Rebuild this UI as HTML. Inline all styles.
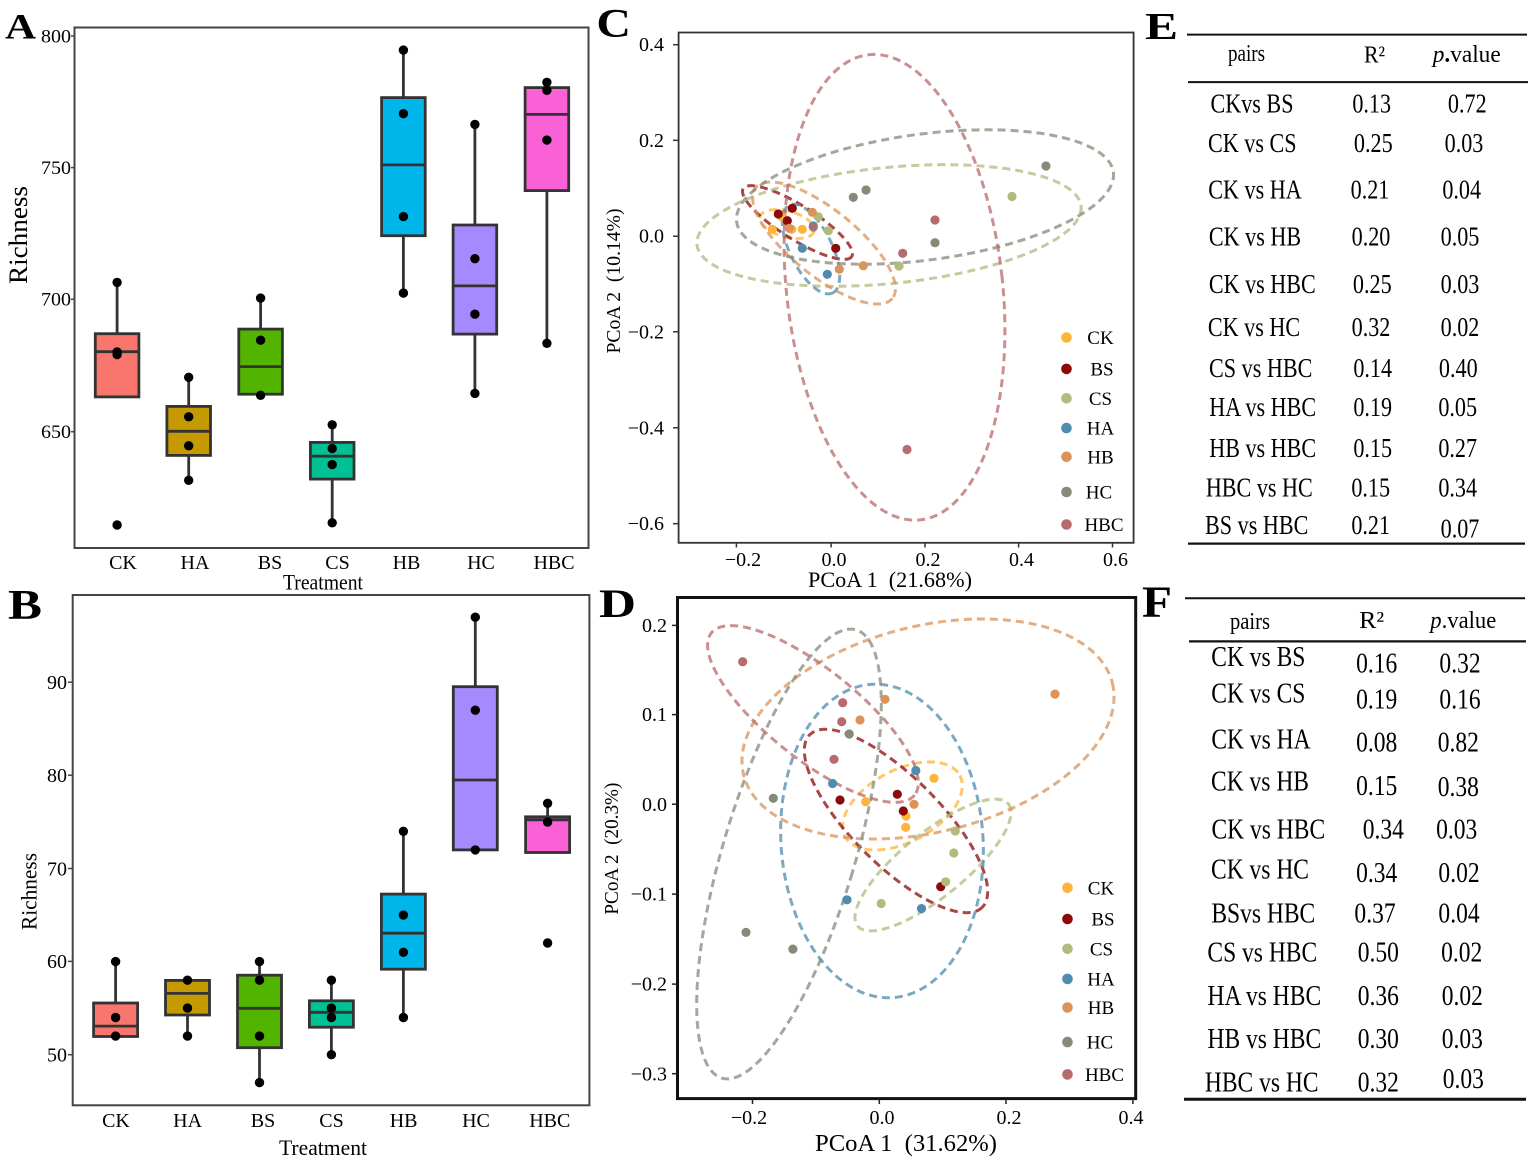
<!DOCTYPE html>
<html><head><meta charset="utf-8"><style>
html,body{margin:0;padding:0;background:#fff;}
svg{display:block;}
text{font-family:"Liberation Serif","Times New Roman",serif;fill:#000;}
.bx{stroke:#333;stroke-width:2.8;}
.wk{stroke:#333;stroke-width:2.8;}
.el{fill:none;stroke-width:3;stroke-dasharray:8 5;stroke-opacity:0.75;}
</style></head><body>
<svg width="1535" height="1163" viewBox="0 0 1535 1163" xmlns="http://www.w3.org/2000/svg">
<rect width="1535" height="1163" fill="#fff"/>

<!-- ================= PANEL A ================= -->
<text x="5" y="38.5" font-size="36" font-weight="bold" textLength="31" lengthAdjust="spacingAndGlyphs">A</text>
<rect x="74.5" y="27.5" width="514" height="520.5" fill="none" stroke="#444" stroke-width="2"/>
<g font-size="18.5" text-anchor="end">
<text x="71" y="42.3" textLength="30" lengthAdjust="spacingAndGlyphs">800</text>
<text x="71" y="173.9" textLength="30" lengthAdjust="spacingAndGlyphs">750</text>
<text x="71" y="305.6" textLength="30" lengthAdjust="spacingAndGlyphs">700</text>
<text x="71" y="438" textLength="30" lengthAdjust="spacingAndGlyphs">650</text>
</g>
<g stroke="#444" stroke-width="1.5">
<line x1="71" y1="36" x2="74.5" y2="36"/><line x1="71" y1="167.6" x2="74.5" y2="167.6"/>
<line x1="71" y1="299.3" x2="74.5" y2="299.3"/><line x1="71" y1="431.7" x2="74.5" y2="431.7"/>
</g>
<text transform="translate(27,235) rotate(-90)" font-size="26" text-anchor="middle" textLength="98" lengthAdjust="spacingAndGlyphs">Richness</text>
<g font-size="20" text-anchor="middle">
<text x="123" y="569">CK</text><text x="195" y="569">HA</text><text x="270" y="569">BS</text>
<text x="337.5" y="569">CS</text><text x="406.5" y="569">HB</text><text x="481" y="569">HC</text>
<text x="554" y="569">HBC</text>
</g>
<text x="323" y="589.5" font-size="22" text-anchor="middle" textLength="80" lengthAdjust="spacingAndGlyphs">Treatment</text>

<!-- A boxes -->
<g class="wk">
<line x1="117.1" y1="282.4" x2="117.1" y2="333.7"/>
<line x1="188.7" y1="377.3" x2="188.7" y2="406.4"/><line x1="188.7" y1="455.4" x2="188.7" y2="480.3"/>
<line x1="260.6" y1="298.1" x2="260.6" y2="329.1"/>
<line x1="332.2" y1="424.8" x2="332.2" y2="442.4"/><line x1="332.2" y1="479.1" x2="332.2" y2="522.8"/>
<line x1="403.4" y1="50.1" x2="403.4" y2="97.6"/><line x1="403.4" y1="235.7" x2="403.4" y2="293.1"/>
<line x1="474.9" y1="124.4" x2="474.9" y2="225"/><line x1="474.9" y1="334.1" x2="474.9" y2="393.4"/>
<line x1="546.9" y1="82.3" x2="546.9" y2="87.6"/><line x1="546.9" y1="190.6" x2="546.9" y2="343.3"/>
</g>
<g class="bx">
<rect x="95.3" y="333.7" width="43.6" height="63.2" fill="#F8766D"/>
<rect x="166.9" y="406.4" width="43.6" height="49" fill="#C49A00"/>
<rect x="238.8" y="329.1" width="43.6" height="65.1" fill="#53B400"/>
<rect x="310.4" y="442.4" width="43.6" height="36.7" fill="#00C094"/>
<rect x="381.6" y="97.6" width="43.6" height="138.1" fill="#00B6EB"/>
<rect x="453.1" y="225" width="43.6" height="109.1" fill="#A58AFF"/>
<rect x="525.1" y="87.6" width="43.6" height="103" fill="#FB61D7"/>
<line x1="95.3" y1="351.7" x2="138.9" y2="351.7"/>
<line x1="166.9" y1="431.3" x2="210.5" y2="431.3"/>
<line x1="238.8" y1="366.6" x2="282.4" y2="366.6"/>
<line x1="310.4" y1="456.2" x2="354" y2="456.2"/>
<line x1="381.6" y1="164.9" x2="425.2" y2="164.9"/>
<line x1="453.1" y1="285.9" x2="496.7" y2="285.9"/>
<line x1="525.1" y1="114.4" x2="568.7" y2="114.4"/>
</g>
<g fill="#000">
<circle cx="117.1" cy="282.4" r="4.7"/><circle cx="117.1" cy="352" r="4.7"/><circle cx="117.1" cy="354.5" r="4.7"/><circle cx="117.1" cy="525" r="4.7"/>
<circle cx="188.7" cy="377.3" r="4.7"/><circle cx="188.7" cy="416.8" r="4.7"/><circle cx="188.7" cy="445.8" r="4.7"/><circle cx="188.7" cy="480.3" r="4.7"/>
<circle cx="260.6" cy="298.1" r="4.7"/><circle cx="260.6" cy="340.2" r="4.7"/><circle cx="260.6" cy="395.3" r="4.7"/>
<circle cx="332.2" cy="424.8" r="4.7"/><circle cx="332.2" cy="448.5" r="4.7"/><circle cx="332.2" cy="464.6" r="4.7"/><circle cx="332.2" cy="522.8" r="4.7"/>
<circle cx="403.4" cy="50.1" r="4.7"/><circle cx="403.4" cy="113.7" r="4.7"/><circle cx="403.4" cy="216.6" r="4.7"/><circle cx="403.4" cy="293.1" r="4.7"/>
<circle cx="474.9" cy="124.4" r="4.7"/><circle cx="474.9" cy="258.7" r="4.7"/><circle cx="474.9" cy="314.2" r="4.7"/><circle cx="474.9" cy="393.4" r="4.7"/>
<circle cx="546.9" cy="82.3" r="4.7"/><circle cx="546.9" cy="90.3" r="4.7"/><circle cx="546.9" cy="140.1" r="4.7"/><circle cx="546.9" cy="343.3" r="4.7"/>
</g>

<!-- ================= PANEL B ================= -->
<text x="8" y="619" font-size="42" font-weight="bold" textLength="34" lengthAdjust="spacingAndGlyphs">B</text>
<rect x="72.7" y="595" width="516.7" height="510.3" fill="none" stroke="#444" stroke-width="2"/>
<g font-size="20" text-anchor="end">
<text x="67" y="689">90</text><text x="67" y="782">80</text><text x="67" y="875.3">70</text>
<text x="67" y="968.2">60</text><text x="67" y="1061.5">50</text>
</g>
<g stroke="#444" stroke-width="1.5">
<line x1="68" y1="682.2" x2="72.7" y2="682.2"/><line x1="68" y1="775.2" x2="72.7" y2="775.2"/>
<line x1="68" y1="868.5" x2="72.7" y2="868.5"/><line x1="68" y1="961.4" x2="72.7" y2="961.4"/>
<line x1="68" y1="1054.7" x2="72.7" y2="1054.7"/>
</g>
<text transform="translate(36.5,891.5) rotate(-90)" font-size="22" text-anchor="middle" textLength="77" lengthAdjust="spacingAndGlyphs">Richness</text>
<g font-size="20" text-anchor="middle">
<text x="116" y="1127">CK</text><text x="187.6" y="1127">HA</text><text x="263" y="1127">BS</text>
<text x="331.5" y="1127">CS</text><text x="403.6" y="1127">HB</text><text x="476" y="1127">HC</text>
<text x="549.8" y="1127">HBC</text>
</g>
<text x="323" y="1155" font-size="22" text-anchor="middle" textLength="88" lengthAdjust="spacingAndGlyphs">Treatment</text>

<g class="wk">
<line x1="115.6" y1="961.6" x2="115.6" y2="1003"/>
<line x1="187.5" y1="1015" x2="187.5" y2="1036.1"/>
<line x1="259.5" y1="961.6" x2="259.5" y2="975.2"/><line x1="259.5" y1="1047.7" x2="259.5" y2="1082.6"/>
<line x1="331.4" y1="980.2" x2="331.4" y2="1000.8"/><line x1="331.4" y1="1027.2" x2="331.4" y2="1054.7"/>
<line x1="403.4" y1="831.3" x2="403.4" y2="894.1"/><line x1="403.4" y1="969.2" x2="403.4" y2="1017.5"/>
<line x1="475.3" y1="617.2" x2="475.3" y2="686.7"/>
<line x1="547.6" y1="803.3" x2="547.6" y2="816.8"/>
</g>
<g class="bx">
<rect x="93.6" y="1003" width="44" height="33.5" fill="#F8766D"/>
<rect x="165.5" y="980.4" width="44" height="34.6" fill="#C49A00"/>
<rect x="237.5" y="975.2" width="44" height="72.5" fill="#53B400"/>
<rect x="309.4" y="1000.8" width="44" height="26.4" fill="#00C094"/>
<rect x="381.4" y="894.1" width="44" height="75.1" fill="#00B6EB"/>
<rect x="453.3" y="686.7" width="44" height="163.2" fill="#A58AFF"/>
<rect x="525.6" y="816.8" width="44" height="35.7" fill="#FB61D7"/>
<line x1="93.6" y1="1026.1" x2="137.6" y2="1026.1"/>
<line x1="165.5" y1="993.4" x2="209.5" y2="993.4"/>
<line x1="237.5" y1="1008.3" x2="281.5" y2="1008.3"/>
<line x1="309.4" y1="1012.3" x2="353.4" y2="1012.3"/>
<line x1="381.4" y1="933.2" x2="425.4" y2="933.2"/>
<line x1="453.3" y1="780" x2="497.3" y2="780"/>
<line x1="525.6" y1="819.8" x2="569.6" y2="819.8"/>
</g>
<g fill="#000">
<circle cx="115.6" cy="961.6" r="4.7"/><circle cx="115.6" cy="1017.5" r="4.7"/><circle cx="115.6" cy="1036.1" r="4.7"/>
<circle cx="187.5" cy="980.2" r="4.7"/><circle cx="187.5" cy="1008.1" r="4.7"/><circle cx="187.5" cy="1036.1" r="4.7"/>
<circle cx="259.5" cy="961.6" r="4.7"/><circle cx="259.5" cy="980.2" r="4.7"/><circle cx="259.5" cy="1036.1" r="4.7"/><circle cx="259.5" cy="1082.6" r="4.7"/>
<circle cx="331.4" cy="980.2" r="4.7"/><circle cx="331.4" cy="1008.1" r="4.7"/><circle cx="331.4" cy="1017.5" r="4.7"/><circle cx="331.4" cy="1054.7" r="4.7"/>
<circle cx="403.4" cy="831.3" r="4.7"/><circle cx="403.4" cy="915.1" r="4.7"/><circle cx="403.4" cy="952.3" r="4.7"/><circle cx="403.4" cy="1017.5" r="4.7"/>
<circle cx="475.3" cy="617.2" r="4.7"/><circle cx="475.3" cy="710.2" r="4.7"/><circle cx="475.3" cy="849.9" r="4.7"/>
<circle cx="547.6" cy="803.3" r="4.7"/><circle cx="547.6" cy="822" r="4.7"/><circle cx="547.6" cy="943" r="4.7"/>
</g>

<!-- ================= PANEL C ================= -->
<text x="596.4" y="36.3" font-size="40" font-weight="bold" textLength="34.6" lengthAdjust="spacingAndGlyphs">C</text>
<rect x="678.6" y="32.5" width="455" height="510.3" fill="none" stroke="#333" stroke-width="1.8"/>
<g stroke="#333" stroke-width="1.5">
<line x1="673" y1="44.7" x2="678.6" y2="44.7"/><line x1="673" y1="140.3" x2="678.6" y2="140.3"/>
<line x1="673" y1="236.2" x2="678.6" y2="236.2"/><line x1="673" y1="331.8" x2="678.6" y2="331.8"/>
<line x1="673" y1="427.8" x2="678.6" y2="427.8"/><line x1="673" y1="523.7" x2="678.6" y2="523.7"/>
<line x1="736.4" y1="542.8" x2="736.4" y2="547.5"/><line x1="831.1" y1="542.8" x2="831.1" y2="547.5"/>
<line x1="925" y1="542.8" x2="925" y2="547.5"/><line x1="1018.6" y1="542.8" x2="1018.6" y2="547.5"/>
<line x1="1112.5" y1="542.8" x2="1112.5" y2="547.5"/>
</g>
<g font-size="20" text-anchor="end">
<text x="664" y="51.2">0.4</text><text x="664" y="146.8">0.2</text><text x="664" y="242.7">0.0</text>
<text x="664" y="338.3">−0.2</text><text x="664" y="434.3">−0.4</text><text x="664" y="530.2">−0.6</text>
</g>
<g font-size="20" text-anchor="middle">
<text x="743" y="566">−0.2</text><text x="834" y="566">0.0</text><text x="928" y="566">0.2</text>
<text x="1021.5" y="566">0.4</text><text x="1115.5" y="566">0.6</text>
</g>
<text x="890" y="587" font-size="22" text-anchor="middle" textLength="164" lengthAdjust="spacingAndGlyphs" xml:space="preserve">PCoA 1  (21.68%)</text>
<text transform="translate(620,281) rotate(-90)" font-size="20" text-anchor="middle" textLength="145" lengthAdjust="spacingAndGlyphs" xml:space="preserve">PCoA 2  (10.14%)</text>

<!-- C ellipses -->
<ellipse class="el" stroke="#FDB43B" cx="787" cy="224" rx="28" ry="13" transform="rotate(15 787 224)"/>
<ellipse class="el" stroke="#8C0A0A" cx="797.5" cy="222.5" rx="64" ry="17" transform="rotate(32 797.5 222.5)"/>
<ellipse class="el" stroke="#B2BA7D" cx="889" cy="225.5" rx="193" ry="58" transform="rotate(-5.7 889 225.5)"/>
<ellipse class="el" stroke="#4F8CAF" cx="811" cy="249" rx="49" ry="21" transform="rotate(63.7 811 249)"/>
<ellipse class="el" stroke="#DB935A" cx="824" cy="243" rx="88" ry="33" transform="rotate(39 824 243)"/>
<ellipse class="el" stroke="#868A78" cx="925" cy="197" rx="190" ry="63" transform="rotate(-7.5 925 197)"/>
<ellipse class="el" stroke="#B86A6C" cx="894.5" cy="287.3" rx="108" ry="234" transform="rotate(-6.35 894.5 287.3)"/>
<!-- C points -->
<g fill="#FDB43B"><circle cx="772.3" cy="229.3" r="4.6"/><circle cx="781.7" cy="216.7" r="4.6"/><circle cx="791.7" cy="229.3" r="4.6"/><circle cx="802.3" cy="229.3" r="4.6"/></g>
<g fill="#8C0A0A"><circle cx="778.3" cy="214" r="4.6"/><circle cx="792.3" cy="208.3" r="4.6"/><circle cx="787.3" cy="220.7" r="4.6"/><circle cx="835.7" cy="248.3" r="4.6"/></g>
<g fill="#B2BA7D"><circle cx="818.3" cy="216.7" r="4.6"/><circle cx="828.3" cy="230.7" r="4.6"/><circle cx="899" cy="266" r="4.6"/><circle cx="1012" cy="196.5" r="4.6"/></g>
<g fill="#4F8CAF"><circle cx="802.3" cy="248.3" r="4.6"/><circle cx="827.3" cy="274.3" r="4.6"/><circle cx="813.3" cy="226" r="4.6"/></g>
<g fill="#DB935A"><circle cx="812.3" cy="212.3" r="4.6"/><circle cx="839.3" cy="269.3" r="4.6"/><circle cx="863.3" cy="265.7" r="4.6"/><circle cx="789.3" cy="228.3" r="4.6"/></g>
<g fill="#868A78"><circle cx="853.3" cy="197.3" r="4.6"/><circle cx="866" cy="190" r="4.6"/><circle cx="935" cy="242.7" r="4.6"/><circle cx="1046" cy="166" r="4.6"/></g>
<g fill="#B86A6C"><circle cx="902.7" cy="253.3" r="4.6"/><circle cx="935" cy="220" r="4.6"/><circle cx="813.3" cy="227.3" r="4.6" fill-opacity="0.8"/><circle cx="907" cy="449.5" r="4.6"/></g>
<!-- C legend -->
<g>
<circle cx="1066.5" cy="337.5" r="5.3" fill="#FDB43B"/><circle cx="1066.5" cy="368.9" r="5.3" fill="#8C0A0A"/>
<circle cx="1066.5" cy="398.3" r="5.3" fill="#B2BA7D"/><circle cx="1066.5" cy="428.1" r="5.3" fill="#4F8CAF"/>
<circle cx="1066.5" cy="456.8" r="5.3" fill="#DB935A"/><circle cx="1066.5" cy="492" r="5.3" fill="#868A78"/>
<circle cx="1066.5" cy="524.5" r="5.3" fill="#B86A6C"/>
</g>
<g font-size="19" text-anchor="middle">
<text x="1100.5" y="344">CK</text><text x="1102" y="375.4">BS</text><text x="1100.5" y="404.8">CS</text>
<text x="1100.5" y="434.6">HA</text><text x="1100.5" y="463.3">HB</text><text x="1099" y="498.5">HC</text>
<text x="1104" y="531">HBC</text>
</g>

<!-- ================= PANEL D ================= -->
<text x="599" y="617" font-size="40" font-weight="bold" textLength="37" lengthAdjust="spacingAndGlyphs">D</text>
<rect x="677.5" y="597.5" width="458.2" height="501.1" fill="none" stroke="#111" stroke-width="3"/>
<g stroke="#222" stroke-width="1.5">
<line x1="672" y1="625.4" x2="677.5" y2="625.4"/><line x1="672" y1="714.6" x2="677.5" y2="714.6"/>
<line x1="672" y1="804.2" x2="677.5" y2="804.2"/><line x1="672" y1="894.1" x2="677.5" y2="894.1"/>
<line x1="672" y1="984.1" x2="677.5" y2="984.1"/><line x1="672" y1="1073.7" x2="677.5" y2="1073.7"/>
<line x1="752.5" y1="1098.6" x2="752.5" y2="1104"/><line x1="879.3" y1="1098.6" x2="879.3" y2="1104"/>
<line x1="1006" y1="1098.6" x2="1006" y2="1104"/><line x1="1132.9" y1="1098.6" x2="1132.9" y2="1104"/>
</g>
<g font-size="20" text-anchor="end">
<text x="667" y="632">0.2</text><text x="667" y="721.2">0.1</text><text x="667" y="810.8">0.0</text>
<text x="667" y="900.7">−0.1</text><text x="667" y="990.7">−0.2</text><text x="667" y="1080.3">−0.3</text>
</g>
<g font-size="20" text-anchor="middle">
<text x="749" y="1124">−0.2</text><text x="882" y="1124">0.0</text><text x="1009" y="1124">0.2</text>
<text x="1131" y="1124">0.4</text>
</g>
<text x="906" y="1151" font-size="24" text-anchor="middle" textLength="182" lengthAdjust="spacingAndGlyphs" xml:space="preserve">PCoA 1  (31.62%)</text>
<text transform="translate(618,848.6) rotate(-90)" font-size="20" text-anchor="middle" textLength="132" lengthAdjust="spacingAndGlyphs" xml:space="preserve">PCoA 2  (20.3%)</text>

<!-- D ellipses -->
<ellipse class="el" stroke="#FDB43B" cx="902.5" cy="806" rx="65" ry="36" transform="rotate(-28 902.5 806)"/>
<ellipse class="el" stroke="#8C0A0A" cx="896" cy="821" rx="122" ry="44" transform="rotate(45 896 821)"/>
<ellipse class="el" stroke="#B2BA7D" cx="933" cy="865" rx="97" ry="32" transform="rotate(-39 933 865)"/>
<ellipse class="el" stroke="#4F8CAF" cx="882" cy="841" rx="101" ry="157" transform="rotate(-4 882 841)"/>
<ellipse class="el" stroke="#DB935A" cx="928" cy="729" rx="190" ry="103" transform="rotate(-14 928 729)"/>
<ellipse class="el" stroke="#868A78" cx="789" cy="854" rx="66" ry="234" transform="rotate(16.7 789 854)"/>
<ellipse class="el" stroke="#B86A6C" cx="813" cy="714" rx="130" ry="45" transform="rotate(38.6 813 714)"/>
<!-- D points -->
<g fill="#FDB43B"><circle cx="865.7" cy="801.7" r="4.6"/><circle cx="934" cy="778.3" r="4.6"/><circle cx="906" cy="816" r="4.6"/><circle cx="905.7" cy="827.3" r="4.6"/></g>
<g fill="#8C0A0A"><circle cx="840" cy="800" r="4.6"/><circle cx="897.3" cy="794.3" r="4.6"/><circle cx="903.3" cy="811" r="4.6"/><circle cx="940.7" cy="886.7" r="4.6"/></g>
<g fill="#B2BA7D"><circle cx="955.3" cy="831" r="4.6"/><circle cx="953.8" cy="853" r="4.6"/><circle cx="945.7" cy="881.8" r="4.6"/><circle cx="881.2" cy="903.5" r="4.6"/></g>
<g fill="#4F8CAF"><circle cx="832.6" cy="783.5" r="4.6"/><circle cx="915.8" cy="770.5" r="4.6"/><circle cx="847" cy="899.8" r="4.6"/><circle cx="921.5" cy="908.6" r="4.6"/></g>
<g fill="#DB935A"><circle cx="885" cy="699.3" r="4.6"/><circle cx="860" cy="720" r="4.6"/><circle cx="914" cy="804.3" r="4.6"/><circle cx="1055" cy="694.1" r="4.6"/></g>
<g fill="#868A78"><circle cx="849.3" cy="734" r="4.6"/><circle cx="773.3" cy="798.3" r="4.6"/><circle cx="746" cy="932.4" r="4.6"/><circle cx="792.9" cy="949.1" r="4.6"/></g>
<g fill="#B86A6C"><circle cx="742.7" cy="661.7" r="4.6"/><circle cx="842.7" cy="702.7" r="4.6"/><circle cx="841.7" cy="721.7" r="4.6"/><circle cx="834" cy="759.3" r="4.6"/></g>
<!-- D legend -->
<g>
<circle cx="1067.5" cy="887.8" r="5.3" fill="#FDB43B"/><circle cx="1067.5" cy="919" r="5.3" fill="#8C0A0A"/>
<circle cx="1067.5" cy="948.8" r="5.3" fill="#B2BA7D"/><circle cx="1067.5" cy="978.9" r="5.3" fill="#4F8CAF"/>
<circle cx="1067.5" cy="1007.5" r="5.3" fill="#DB935A"/><circle cx="1067.5" cy="1042.1" r="5.3" fill="#868A78"/>
<circle cx="1067.5" cy="1074.4" r="5.3" fill="#B86A6C"/>
</g>
<g font-size="19" text-anchor="middle">
<text x="1101" y="894.3">CK</text><text x="1103" y="925.5">BS</text><text x="1101.5" y="955.3">CS</text>
<text x="1101" y="985.4">HA</text><text x="1101" y="1014">HB</text><text x="1100" y="1048.6">HC</text>
<text x="1104.5" y="1080.9">HBC</text>
</g>

<!-- ================= TABLE E ================= -->
<text x="1145" y="39" font-size="38" font-weight="bold" textLength="33" lengthAdjust="spacingAndGlyphs">E</text>
<g stroke="#111">
<line x1="1187" y1="34.6" x2="1527" y2="34.6" stroke-width="2"/>
<line x1="1188" y1="82.1" x2="1528" y2="82.1" stroke-width="2"/>
<line x1="1188" y1="543.6" x2="1525" y2="543.6" stroke-width="2.2"/>
</g>
<g font-size="24" text-anchor="middle">
<text x="1246.5" y="61" textLength="37" lengthAdjust="spacingAndGlyphs">pairs</text>
<text x="1374.5" y="62.5" textLength="21" lengthAdjust="spacingAndGlyphs">R²</text>
<text x="1466.7" y="62" textLength="68" lengthAdjust="spacingAndGlyphs"><tspan font-style="italic">p</tspan><tspan font-weight="bold">.</tspan>value</text>
</g>
<g font-size="27" text-anchor="middle">
<text transform="translate(1252,112.6) scale(0.82 1)">CKvs BS</text>
<text transform="translate(1371.7,112.6) scale(0.82 1)">0.13</text>
<text transform="translate(1467.3,112.6) scale(0.82 1)">0.72</text>
<text transform="translate(1252.3,151.9) scale(0.82 1)">CK vs CS</text>
<text transform="translate(1373.3,151.9) scale(0.82 1)">0.25</text>
<text transform="translate(1464,151.9) scale(0.82 1)">0.03</text>
<text transform="translate(1255,198.3) scale(0.82 1)">CK vs HA</text>
<text transform="translate(1370,198.3) scale(0.82 1)">0.21</text>
<text transform="translate(1461.7,198.3) scale(0.82 1)">0.04</text>
<text transform="translate(1255,245.4) scale(0.82 1)">CK vs HB</text>
<text transform="translate(1371,245.4) scale(0.82 1)">0.20</text>
<text transform="translate(1460,245.4) scale(0.82 1)">0.05</text>
<text transform="translate(1262.3,292.9) scale(0.82 1)">CK vs HBC</text>
<text transform="translate(1372.3,292.9) scale(0.82 1)">0.25</text>
<text transform="translate(1460,292.9) scale(0.82 1)">0.03</text>
<text transform="translate(1254,335.8) scale(0.82 1)">CK vs HC</text>
<text transform="translate(1371,335.8) scale(0.82 1)">0.32</text>
<text transform="translate(1460,335.8) scale(0.82 1)">0.02</text>
<text transform="translate(1260.7,376.9) scale(0.82 1)">CS vs HBC</text>
<text transform="translate(1372.7,376.9) scale(0.82 1)">0.14</text>
<text transform="translate(1458.3,376.9) scale(0.82 1)">0.40</text>
<text transform="translate(1262.7,416.1) scale(0.82 1)">HA vs HBC</text>
<text transform="translate(1372.7,416.1) scale(0.82 1)">0.19</text>
<text transform="translate(1457.7,416.1) scale(0.82 1)">0.05</text>
<text transform="translate(1262.7,457.2) scale(0.82 1)">HB vs HBC</text>
<text transform="translate(1372.7,457.2) scale(0.82 1)">0.15</text>
<text transform="translate(1457.7,457.2) scale(0.82 1)">0.27</text>
<text transform="translate(1259.3,496.5) scale(0.82 1)">HBC vs HC</text>
<text transform="translate(1370.7,496.5) scale(0.82 1)">0.15</text>
<text transform="translate(1457.7,496.5) scale(0.82 1)">0.34</text>
<text transform="translate(1256.7,534) scale(0.82 1)">BS vs HBC</text>
<text transform="translate(1370.7,534) scale(0.82 1)">0.21</text>
<text transform="translate(1460,537.6) scale(0.82 1)">0.07</text>
</g>

<!-- ================= TABLE F ================= -->
<text x="1142" y="616.6" font-size="44" font-weight="bold" textLength="30" lengthAdjust="spacingAndGlyphs">F</text>
<g stroke="#111">
<line x1="1185" y1="598.3" x2="1525" y2="598.3" stroke-width="2"/>
<line x1="1189" y1="641.4" x2="1526" y2="641.4" stroke-width="2.2"/>
<line x1="1184" y1="1099.3" x2="1526" y2="1099.3" stroke-width="3"/>
</g>
<g font-size="24" text-anchor="middle">
<text x="1250" y="629" textLength="40" lengthAdjust="spacingAndGlyphs">pairs</text>
<text x="1371.7" y="628" textLength="25" lengthAdjust="spacingAndGlyphs">R²</text>
<text x="1463.3" y="628" textLength="66" lengthAdjust="spacingAndGlyphs"><tspan font-style="italic">p</tspan>.value</text>
</g>
<g font-size="28" text-anchor="middle">
<text transform="translate(1258.3,666.2) scale(0.84 1)">CK vs BS</text>
<text transform="translate(1376.7,672.4) scale(0.84 1)">0.16</text>
<text transform="translate(1460,672.4) scale(0.84 1)">0.32</text>
<text transform="translate(1258.3,702.4) scale(0.84 1)">CK vs CS</text>
<text transform="translate(1376.7,708.6) scale(0.84 1)">0.19</text>
<text transform="translate(1460,708.6) scale(0.84 1)">0.16</text>
<text transform="translate(1261,748.3) scale(0.84 1)">CK vs HA</text>
<text transform="translate(1376.7,751.7) scale(0.84 1)">0.08</text>
<text transform="translate(1458.3,751.7) scale(0.84 1)">0.82</text>
<text transform="translate(1260,790.7) scale(0.84 1)">CK vs HB</text>
<text transform="translate(1376.7,794.8) scale(0.84 1)">0.15</text>
<text transform="translate(1458.3,795.9) scale(0.84 1)">0.38</text>
<text transform="translate(1268.3,838.6) scale(0.84 1)">CK vs HBC</text>
<text transform="translate(1383.3,838.6) scale(0.84 1)">0.34</text>
<text transform="translate(1456.7,838.6) scale(0.84 1)">0.03</text>
<text transform="translate(1260,878.6) scale(0.84 1)">CK vs HC</text>
<text transform="translate(1376.7,882.1) scale(0.84 1)">0.34</text>
<text transform="translate(1459,882.1) scale(0.84 1)">0.02</text>
<text transform="translate(1263.3,922.4) scale(0.84 1)">BSvs HBC</text>
<text transform="translate(1375,922.4) scale(0.84 1)">0.37</text>
<text transform="translate(1459,922.4) scale(0.84 1)">0.04</text>
<text transform="translate(1262.3,961.4) scale(0.84 1)">CS vs HBC</text>
<text transform="translate(1378.3,961.4) scale(0.84 1)">0.50</text>
<text transform="translate(1461.7,961.4) scale(0.84 1)">0.02</text>
<text transform="translate(1264.3,1005.2) scale(0.84 1)">HA vs HBC</text>
<text transform="translate(1378.3,1005.2) scale(0.84 1)">0.36</text>
<text transform="translate(1462.3,1005.2) scale(0.84 1)">0.02</text>
<text transform="translate(1264.3,1048.2) scale(0.84 1)">HB vs HBC</text>
<text transform="translate(1378.3,1048.2) scale(0.84 1)">0.30</text>
<text transform="translate(1462.3,1048.2) scale(0.84 1)">0.03</text>
<text transform="translate(1261.7,1091.3) scale(0.84 1)">HBC vs HC</text>
<text transform="translate(1378.3,1091.3) scale(0.84 1)">0.32</text>
<text transform="translate(1463.3,1087.9) scale(0.84 1)">0.03</text>
</g>
</svg>
</body></html>
